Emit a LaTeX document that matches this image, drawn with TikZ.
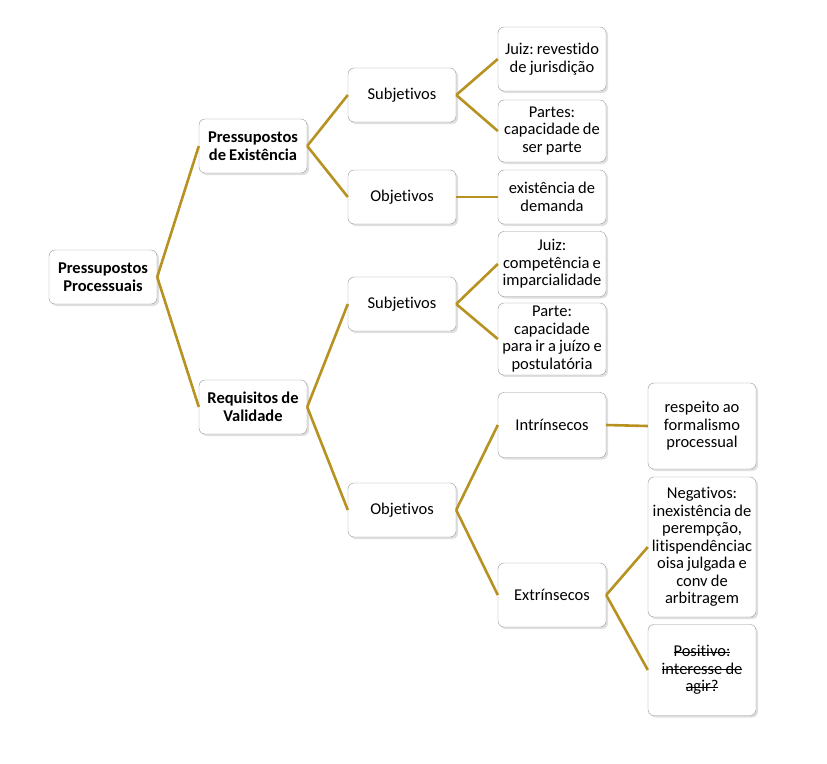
\documentclass[tikz,border=0pt]{standalone}
\usepackage{fontspec}
\setmainfont{Carlito}[Ligatures=CommonOff, WordSpace={0.85,0,0}]
\usetikzlibrary{shadows}
\newcommand\strikeline[1]{\leavevmode\setbox0\hbox{#1}\rlap{\usebox0}\rule[0.28em]{\wd0}{0.6pt}}
\definecolor{linegold}{RGB}{184,146,32}
\definecolor{boxline}{RGB}{150,150,150}
\tikzstyle{box} = [rectangle, rounded corners=6pt, draw=boxline, fill=white, minimum width=108pt, minimum height=54pt, align=center, inner xsep=0pt, inner ysep=0pt, font=\fontsize{16.5}{17.5}\selectfont\frenchspacing, drop shadow={opacity=0.25, shadow xshift=2pt, shadow yshift=-2pt}]
\tikzstyle{bbox} = [box, font=\fontsize{16.5}{17.5}\selectfont\frenchspacing\bfseries]
\tikzstyle{link} = [line width=2.6pt, draw=linegold]

\begin{document}
\begin{tikzpicture}[x=1pt, y=-1pt]
	\useasboundingbox (0,0) rectangle (827,763);
	% level 1 and 2
	\node (root) [bbox] at (103,277) {Pressupostos\\Processuais};
	\node (exist) [bbox] at (253,146) {Pressupostos\\de Existência};
	\node (valid) [bbox] at (253,407) {Requisitos de\\Validade};
	% existencia
	\node (esubj) [box] at (402,95) {Subjetivos};
	\node (eobj) [box] at (402,197) {Objetivos};
	\node (ejuiz) [box, minimum height=64pt] at (552,59) {Juiz: revestido\\de jurisdição};
	\node (epartes) [box, minimum height=62pt] at (552,131) {Partes:\\capacidade de\\ser parte};
	\node (edemanda) [box] at (552,197) {existência de\\demanda};
	% validade
	\node (vsubj) [box] at (402,304) {Subjetivos};
	\node (vobj) [box] at (402,510) {Objetivos};
	\node (vjuiz) [box, minimum height=65pt] at (552,264) {Juiz:\\competência e\\imparcialidade};
	\node (vparte) [box, minimum height=72pt] at (552,339) {Parte:\\capacidade\\para ir a juízo e\\postulatória};
	\node (intr) [box, minimum height=65pt] at (552,425) {Intrínsecos};
	\node (extr) [box, minimum height=64pt] at (552,595) {Extrínsecos};
	\node (formal) [box, minimum height=86pt] at (702,426) {respeito ao\\formalismo\\processual};
	\node (neg) [box, minimum height=140pt] at (702,547) {Negativos:\\inexistência de\\perempção,\\litispendênciac\\oisa julgada e\\conv de\\arbitragem};
	\node (pos) [box, minimum height=91pt] at (702,670) {\strikeline{Positivo:}\\\strikeline{interesse de}\\\strikeline{agir?}};
	% connectors
	\draw [link] (root.east) -- (exist.west);
	\draw [link] (root.east) -- (valid.west);
	\draw [link] (exist.east) -- (esubj.west);
	\draw [link] (exist.east) -- (eobj.west);
	\draw [link] (esubj.east) -- (ejuiz.west);
	\draw [link] (esubj.east) -- (epartes.west);
	\draw [link] (eobj.east) -- (edemanda.west);
	\draw [link] (valid.east) -- (vsubj.west);
	\draw [link] (valid.east) -- (vobj.west);
	\draw [link] (vsubj.east) -- (vjuiz.west);
	\draw [link] (vsubj.east) -- (vparte.west);
	\draw [link] (vobj.east) -- (intr.west);
	\draw [link] (vobj.east) -- (extr.west);
	\draw [link] (intr.east) -- (formal.west);
	\draw [link] (extr.east) -- (neg.west);
	\draw [link] (extr.east) -- (pos.west);
\end{tikzpicture}
\end{document}
